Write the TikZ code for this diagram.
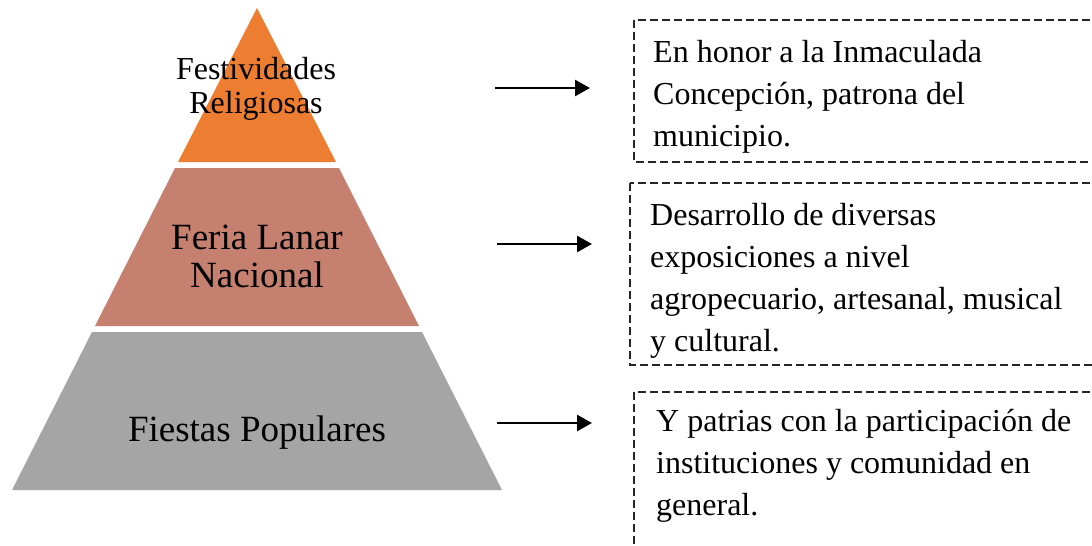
\documentclass[tikz,border=0pt]{standalone}
\usepackage{fontspec}
\setmainfont{Liberation Serif}
\usetikzlibrary{arrows.meta}
\definecolor{tierone}{HTML}{ED7D31}
\definecolor{tiertwo}{HTML}{C5806F}
\definecolor{tierthree}{HTML}{A5A5A5}
\tikzset{
  tiertext/.style={inner sep=0pt, align=center, text=black},
  boxtext/.style={inner sep=0pt, align=left, anchor=north west, text=black,
    font=\fontsize{32}{42}\selectfont},
  dashbox/.style={draw=black!85, line width=1.2pt, dash pattern=on 8pt off 4pt},
  linkarrow/.style={draw=black, line width=2.5pt, -{Triangle[length=15pt,width=16pt]}}
}
\begin{document}
\begin{tikzpicture}[x=1pt,y=-1pt]
\useasboundingbox (0,0) rectangle (1092,546);
\begin{scope}
\clip (0,0) rectangle (1092,546);
% pyramid tiers
\fill[tierone] (257,8) -- (336,162) -- (178,162) -- cycle;
\fill[tiertwo] (175,168) -- (339,168) -- (419,326) -- (95,326) -- cycle;
\fill[tierthree] (92,332) -- (422,332) -- (502,490) -- (12,490) -- cycle;
% tier labels
\node[tiertext, anchor=north, font=\fontsize{32}{34}\selectfont] (t1) at (256,57) {Festividades\\Religiosas};
\node[tiertext, anchor=north, font=\fontsize{37}{38}\selectfont] (t2) at (257,225) {Feria Lanar\\Nacional};
\node[tiertext, anchor=base, font=\fontsize{37}{38}\selectfont] (t3) at (257,441) {Fiestas Populares};
% dashed boxes
\draw[dashbox] (634,20) rectangle (1110,162);
\draw[dashbox] (630,183) rectangle (1110,365);
\draw[dashbox] (634,392) rectangle (1110,570);
% box texts
\node[boxtext] (d1) at (653,40) {En honor a la Inmaculada\\Concepción, patrona del\\municipio.};
\node[boxtext] (d2) at (650,203) {Desarrollo de diversas\\exposiciones a nivel\\agropecuario, artesanal, musical\\y cultural.};
\node[boxtext] (d3) at (656,409) {Y patrias con la participación de\\instituciones y comunidad en\\general.};
% arrows
\coordinate (a1s) at (495,88);
\coordinate (a1e) at (590,88);
\coordinate (a2s) at (497,244);
\coordinate (a2e) at (592,244);
\coordinate (a3s) at (497,423);
\coordinate (a3e) at (592,423);
\draw[linkarrow] (a1s) -- (a1e);
\draw[linkarrow] (a2s) -- (a2e);
\draw[linkarrow] (a3s) -- (a3e);
\end{scope}
\end{tikzpicture}
\end{document}
